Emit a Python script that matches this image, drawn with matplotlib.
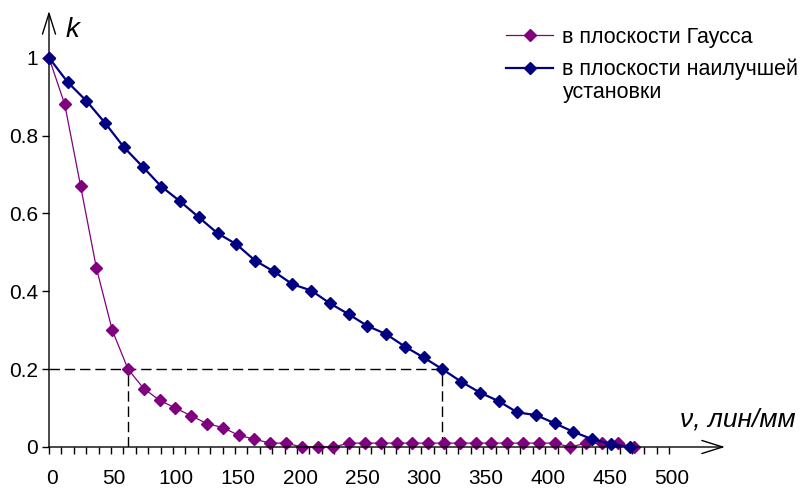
import matplotlib
matplotlib.use("Agg")
import matplotlib.pyplot as plt
import matplotlib.transforms as mtransforms
from matplotlib.ticker import FixedLocator

plt.rcParams['font.family'] = ['Liberation Sans', 'DejaVu Sans']

# частота, лин/мм
nu_gauss = [0, 12.7, 25.5, 38.2, 51.0, 63.7, 76.4, 89.2, 101.9, 114.7,
            127.4, 140.1, 152.9, 165.6, 178.4, 191.1, 203.8, 216.6, 229.3, 242.1,
            254.8, 267.5, 280.3, 293.0, 305.8, 318.5, 331.2, 344.0, 356.7, 369.5,
            382.2, 394.9, 407.7, 420.4, 433.2, 445.9, 458.6, 471.4]
k_gauss = [1.0, 0.88, 0.67, 0.46, 0.30, 0.20, 0.15, 0.12, 0.10, 0.08,
           0.06, 0.05, 0.03, 0.02, 0.01, 0.01, 0.0, 0.0, 0.0, 0.01,
           0.01, 0.01, 0.01, 0.01, 0.01, 0.01, 0.01, 0.01, 0.01, 0.01,
           0.01, 0.01, 0.01, 0.0, 0.01, 0.01, 0.01, 0.0]

nu_best = [0, 15.1, 30.2, 45.3, 60.4, 75.5, 90.6, 105.7, 120.8, 135.9,
           151.0, 166.1, 181.2, 196.3, 211.4, 226.5, 241.6, 256.7, 271.8, 286.9,
           302.0, 317.1, 332.2, 347.3, 362.4, 377.5, 392.6, 407.7, 422.8, 437.9,
           453.0, 468.1]
k_best = [1.0, 0.937, 0.889, 0.832, 0.77, 0.72, 0.669, 0.631, 0.59, 0.549,
          0.521, 0.479, 0.451, 0.418, 0.402, 0.369, 0.341, 0.311, 0.29, 0.258,
          0.23, 0.2, 0.168, 0.14, 0.118, 0.089, 0.082, 0.061, 0.039, 0.02,
          0.008, 0.0]

level = 0.2
nu_gauss_level = 63.7
nu_best_level = 317.1

xticks = [0, 50, 100, 150, 200, 250, 300, 350, 400, 450, 500]
xminor = list(range(0, 510, 10))
yticks = [0, 0.2, 0.4, 0.6, 0.8, 1]
ytick_labels = ['0', '0.2', '0.4', '0.6', '0.8', '1']

fig = plt.figure(figsize=(8, 4.88), dpi=100)
ax = fig.add_axes([49 / 800, 41 / 488, 676 / 800, 436 / 488])
ax.set_xlim(0, 545)
ax.set_ylim(0, 1.12)

for s in ax.spines.values():
    s.set_visible(False)

# dashed guides
dash = dict(color='black', lw=1, dashes=(7.5, 3.5))
ax.plot([0, nu_best_level], [level, level], **dash)
ax.plot([nu_gauss_level, nu_gauss_level], [0, level], **dash)
ax.plot([nu_best_level, nu_best_level], [0, level], **dash)

ax.plot(nu_gauss, k_gauss, color='#800080', lw=0.9, marker='D', ms=6.2,
        label='в плоскости Гаусса', clip_on=False, zorder=3)
ax.plot(nu_best, k_best, color='#000080', lw=1.6, marker='D', ms=6.2,
        label='в плоскости наилучшей', clip_on=False, zorder=4)

# axes with arrows
arr = dict(arrowstyle='->,head_length=1.5,head_width=0.47', color='black', lw=1,
           shrinkA=0, shrinkB=0, mutation_scale=10)
ax.annotate('', xy=(545, 0), xytext=(0, 0), arrowprops=arr, annotation_clip=False)
ax.annotate('', xy=(0, 1.12), xytext=(0, 0), arrowprops=arr, annotation_clip=False)

ax.set_xticks(xticks)
ax.xaxis.set_minor_locator(FixedLocator(xminor))
ax.set_yticks(yticks)
ax.set_yticklabels(ytick_labels)
ax.tick_params(axis='x', which='both', direction='out', length=5, width=1, pad=10.5,
               labelsize=15)
ax.tick_params(axis='y', which='both', direction='out', length=5, width=1, pad=3,
               labelsize=15)
ax.set_xlim(0, 545)
shift = mtransforms.ScaledTranslation(3 / 100, 0, fig.dpi_scale_trans)
for lab in ax.get_xticklabels():
    lab.set_transform(lab.get_transform() + shift)

ax.text(13, 1.054, 'k', style='italic', fontsize=20, va='baseline', ha='left')
ax.text(680 / 800, 1 - 427 / 488, 'ν, лин/мм', style='italic', fontsize=19,
        va='baseline', ha='left', transform=fig.transFigure)

leg = ax.legend(loc='upper left', bbox_to_anchor=(506 / 800, 1 - 27 / 488),
                bbox_transform=fig.transFigure, frameon=False, fontsize=15.5,
                handlelength=2.2, handletextpad=0.4, labelspacing=0.5,
                borderpad=0, borderaxespad=0, numpoints=1)
fig.text(563 / 800, 1 - 98 / 488, 'установки', fontsize=15.5, va='baseline', ha='left')

fig.savefig('out.png', dpi=100)
